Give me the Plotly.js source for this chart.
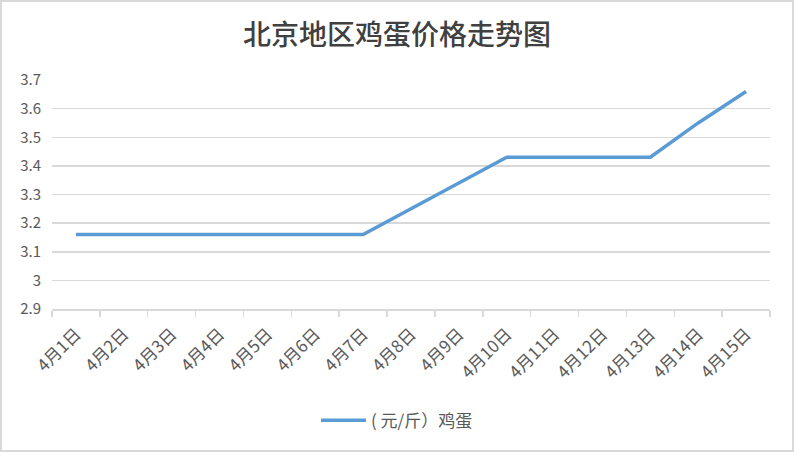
<!DOCTYPE html>
<html>
<head>
<meta charset="utf-8">
<script src="https://cdn.plot.ly/plotly-3.0.1.min.js"></script>
<style>
html,body{margin:0;padding:0;background:#fff;}
#wrap{position:relative;width:794px;height:452px;}
#chart{width:794px;height:452px;}
#frame{position:absolute;left:0;top:0;width:794px;height:452px;box-sizing:border-box;border:2px solid #d9d9d9;pointer-events:none;}
</style>
</head>
<body>
<div id="wrap"><div id="chart"></div><div id="frame"></div></div>
<script>
const categories = ["4月1日","4月2日","4月3日","4月4日","4月5日","4月6日","4月7日","4月8日","4月9日","4月10日","4月11日","4月12日","4月13日","4月14日","4月15日"];
const eggPrice = [3.16,3.16,3.16,3.16,3.16,3.16,3.16,3.25,3.34,3.43,3.43,3.43,3.43,3.55,3.66];
const yTicks = [2.9,3.0,3.1,3.2,3.3,3.4,3.5,3.6,3.7];
const yTickText = ["2.9","3","3.1","3.2","3.3","3.4","3.5","3.6","3.7"];
const seriesName = "( 元/斤）鸡蛋";
const chartTitle = "北京地区鸡蛋价格走势图";

const font = '"Microsoft YaHei","Noto Sans CJK SC","DejaVu Sans",sans-serif';

Plotly.newPlot('chart', [{
  type: 'scatter',
  mode: 'lines',
  x: categories,
  y: eggPrice,
  name: seriesName,
  line: {color: '#5b9bd5', width: 3.5},
  showlegend: true
}], {
  width: 794, height: 452,
  paper_bgcolor: '#ffffff', plot_bgcolor: '#ffffff',
  margin: {l: 52, r: 24, t: 80, b: 143},
  title: {text: chartTitle, x: 0.5, xanchor: 'center', xref: 'container', y: 0.922, yanchor: 'middle',
          font: {family: '"Noto Sans CJK SC",serif', size: 28, color: '#404040', weight: 500}},
  xaxis: {
    type: 'category',
    tickangle: -45,
    tickson: 'boundaries',
    ticks: 'outside', ticklen: 6, tickcolor: '#d9d9d9', tickwidth: 1.5,
    showline: true, linecolor: '#d9d9d9', linewidth: 1.5,
    showgrid: false,
    ticklabelstandoff: 7,
    tickfont: {family: font, size: 17, color: '#595959'},
    range: [-0.5, 14.5],
    fixedrange: true
  },
  yaxis: {
    range: [2.9, 3.7],
    tickvals: yTicks, ticktext: yTickText,
    showgrid: true, gridcolor: '#d9d9d9', gridwidth: 1.5,
    zeroline: false, showline: false, ticks: '',
    ticklabelstandoff: 10,
    tickfont: {family: font, size: 15, color: '#595959'},
    fixedrange: true
  },
  legend: {
    orientation: 'h', x: 0.5, xanchor: 'center', xref: 'container',
    y: 0.069, yanchor: 'middle', yref: 'container',
    font: {family: font, size: 17, color: '#595959'},
    itemwidth: 45
  }
}, {displayModeBar: false, staticPlot: true});
</script>
</body>
</html>
